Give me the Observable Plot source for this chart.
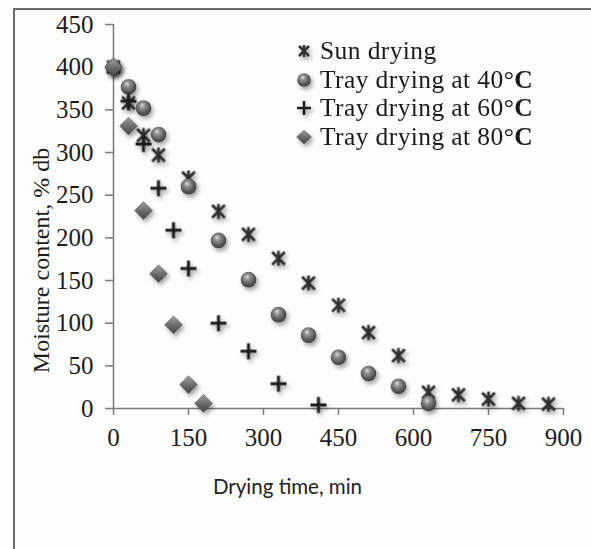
<!DOCTYPE html>
<html>
<head>
<meta charset="utf-8">
<script src="https://cdn.jsdelivr.net/npm/d3@7"></script>
<script src="https://cdn.jsdelivr.net/npm/@observablehq/plot@0.6"></script>
<style>
  html, body { margin: 0; padding: 0; background: #fff; }
  #wrap { position: relative; width: 591px; height: 549px; overflow: hidden; background: #fdfdfd; }
  #frame { position: absolute; left: 13px; top: 8px; right: -4px; bottom: -4px;
           border-left: 2px solid #6a6a6a; border-top: 2px solid #6a6a6a; pointer-events: none; }
  #chart { position: absolute; left: 0; top: 0; }
  #legend { position: absolute; left: 293px; top: 37px; font-family: "Liberation Serif", serif;
            font-size: 25.5px; letter-spacing: 0.4px; color: #1a1a1a; line-height: 28.5px; }
  #legend .row { display: flex; align-items: center; height: 28.5px; white-space: nowrap; }
  #legend svg { width: 22px; height: 22px; margin-right: 5px; overflow: visible; }
</style>
</head>
<body>
<div id="wrap">
  <div id="chart"></div>
  <div id="frame"></div>
  <div id="legend"></div>
</div>
<script>
// ---- data ----
const seriesNames = ["Sun drying", "Tray drying at 40°C", "Tray drying at 60°C", "Tray drying at 80°C"];
const sunTime  = [0, 30, 60, 90, 150, 210, 270, 330, 390, 450, 510, 570, 630, 690, 750, 810, 870];
const sunMoist = [400, 358, 320, 297, 270, 231, 204, 176, 147, 121, 89, 62, 19, 16, 11, 6, 5];
const t40Time  = [0, 30, 60, 90, 150, 210, 270, 330, 390, 450, 510, 570, 630];
const t40Moist = [400, 377, 352, 321, 260, 197, 151, 110, 86, 60, 41, 26, 6];
const t60Time  = [0, 30, 60, 90, 120, 150, 210, 270, 330, 410];
const t60Moist = [400, 360, 310, 258, 209, 164, 100, 67, 29, 4];
const t80Time  = [0, 30, 60, 90, 120, 150, 180];
const t80Moist = [400, 331, 232, 158, 98, 28, 6];
const xTicks = [0, 150, 300, 450, 600, 750, 900];
const yTicks = [0, 50, 100, 150, 200, 250, 300, 350, 400, 450];
const xLabel = "Drying time, min";
const yLabel = "Moisture content, % db";

const toRows = (ts, ms) => ts.map((t, i) => ({t, m: ms[i]}));
const sun = toRows(sunTime, sunMoist);
const t40 = toRows(t40Time, t40Moist);
const t60 = toRows(t60Time, t60Moist);
const t80 = toRows(t80Time, t80Moist);

// custom star marker: X plus vertical line
const starSym = {
  draw(ctx, size) {
    const h = Math.sqrt(size / Math.PI);
    const d = h * 0.85;
    ctx.moveTo(-d, -d); ctx.lineTo(d, d);
    ctx.moveTo(-d, d); ctx.lineTo(d, -d);
    ctx.moveTo(0, -h); ctx.lineTo(0, h);
  }
};

const serif = "Liberation Serif, Times New Roman, serif";
const axisColor = "#7a7a7a";

const plot = Plot.plot({
  width: 591,
  height: 549,
  marginLeft: 113,
  marginRight: 28,
  marginTop: 24,
  marginBottom: 141,
  style: {fontFamily: serif, background: "transparent", overflow: "visible"},
  x: {domain: [0, 900], ticks: xTicks},
  y: {domain: [0, 450], ticks: yTicks},
  marks: [
    Plot.ruleX([0], {stroke: axisColor, strokeWidth: 1.5}),
    Plot.ruleY([0], {stroke: axisColor, strokeWidth: 1.5}),
    Plot.axisY({ticks: yTicks, tickSize: 8, tickPadding: 12, stroke: axisColor, strokeWidth: 1.5,
                fontSize: 25, fontFamily: serif, fill: "#1c1c1c", label: null}),
    Plot.axisX({ticks: xTicks, tickSize: 7, tickPadding: 13, stroke: axisColor, strokeWidth: 1.5,
                fontSize: 25, fontFamily: serif, fill: "#1c1c1c", label: null}),
    Plot.text([yLabel], {frameAnchor: "left", rotate: -90, dx: -72, dy: 44, fontSize: 24,
                         fontFamily: serif, fill: "#1c1c1c", textAnchor: "middle", lineAnchor: "middle"}),
    Plot.text([xLabel], {frameAnchor: "bottom", dx: -51, dy: 79, fontSize: 20.5,
                         fontFamily: "Lato, sans-serif", fill: "#222", textAnchor: "middle", lineAnchor: "middle"}),
    Plot.dot(sun, {x: "t", y: "m", symbol: starSym, r: 7.5, fill: "none", stroke: "#2e2e2e", strokeWidth: 2.8}),
    Plot.dot(t40, {x: "t", y: "m", symbol: "circle", r: 7.8, fill: "url(#sphereGrad)", stroke: "none"}),
    Plot.dot(t60, {x: "t", y: "m", symbol: "plus", r: 5.2, fill: "none", stroke: "#1a1a1a", strokeWidth: 3}),
    Plot.dot(t80, {x: "t", y: "m", symbol: "diamond2", r: 8, fill: "url(#diamondGrad)", stroke: "#4a4a4a", strokeWidth: 0.5})
  ]
});

// gradients and shadow
const ns = "http://www.w3.org/2000/svg";
const defs = document.createElementNS(ns, "defs");
defs.innerHTML = `
  <radialGradient id="sphereGrad" cx="0.45" cy="0.4" r="0.6" fx="0.4" fy="0.3">
    <stop offset="0" stop-color="#dedede"/>
    <stop offset="0.3" stop-color="#929292"/>
    <stop offset="0.75" stop-color="#575757"/>
    <stop offset="1" stop-color="#3e3e3e"/>
  </radialGradient>
  <linearGradient id="diamondGrad" x1="0" y1="0" x2="0" y2="1">
    <stop offset="0" stop-color="#a0a0a0"/>
    <stop offset="0.5" stop-color="#6e6e6e"/>
    <stop offset="1" stop-color="#444"/>
  </linearGradient>
  <filter id="shadow" x="-50%" y="-50%" width="200%" height="200%">
    <feDropShadow dx="2" dy="3" stdDeviation="2" flood-color="#000" flood-opacity="0.35"/>
  </filter>`;
plot.insertBefore(defs, plot.firstChild);
plot.querySelectorAll('g[aria-label="dot"]').forEach(g => g.setAttribute("filter", "url(#shadow)"));
document.getElementById("chart").appendChild(plot);

// legend
const legendSymbols = [
  `<path d="M-5,-5L5,5M-5,5L5,-5M0,-6L0,6" stroke="#333" stroke-width="2.6" fill="none"/>`,
  `<circle r="6.8" fill="url(#sphereGrad)"/>`,
  `<path d="M-7,0H7M0,-7V7" stroke="#1e1e1e" stroke-width="2.6" fill="none"/>`,
  `<path d="M0,-7L7.5,0L0,7L-7.5,0Z" fill="url(#diamondGrad)" stroke="#555" stroke-width="0.5"/>`
];
const legend = document.getElementById("legend");
seriesNames.forEach((name, i) => {
  const row = document.createElement("div");
  row.className = "row";
  const label = name.replace("°C", '°<b>C</b>');
  row.innerHTML = `<svg viewBox="-11 -11 22 22"><g filter="url(#shadow)">${legendSymbols[i]}</g></svg><span>${label}</span>`;
  legend.appendChild(row);
});
</script>
</body>
</html>
